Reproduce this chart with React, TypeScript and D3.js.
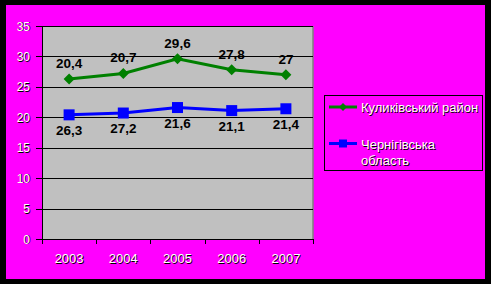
import React from "react";
import * as d3 from "d3";

const years = ["2003", "2004", "2005", "2006", "2007"];
const districtValues = [26.3, 27.2, 29.6, 27.8, 27];
const districtLabels = ["20,4", "20,7", "29,6", "27,8", "27"];
const regionValues = [20.4, 20.7, 21.6, 21.1, 21.4];
const regionLabels = ["26,3", "27,2", "21,6", "21,1", "21,4"];
const yTicks = [0, 5, 10, 15, 20, 25, 30, 35];
const seriesNames = ["Куликівський район", "Чернігівська область"];

const W = 491, H = 284;
const plot = { left: 42, top: 26, right: 313, bottom: 239 };
const FONT = "Arial, 'Liberation Sans', sans-serif";

function Embossed({ x, y, anchor, size, children }: any) {
  return (
    <g fontFamily={FONT} fontSize={size} textAnchor={anchor}>
      <text x={x + 0.8} y={y + 0.8} fill="#000">{children}</text>
      <text x={x} y={y} fill="#fff">{children}</text>
    </g>
  );
}

export default function App() {
  const x = d3.scalePoint<string>().domain(years).range([plot.left, plot.right]).padding(0.5);
  const y = d3.scaleLinear().domain([0, 35]).range([plot.bottom, plot.top]);
  const line = d3.line<number>().x((_, i) => x(years[i])!).y((d) => y(d));
  const step = x.step();
  const tickXs = d3.range(years.length + 1).map((i) => plot.left + i * step);

  const diamond = (cx: number, cy: number, r: number) =>
    `M${cx},${cy - r}L${cx + r},${cy}L${cx},${cy + r}L${cx - r},${cy}Z`;

  return (
    <svg width={W} height={H} style={{ position: "fixed", left: 0, top: 0 }}>
      <rect x={0} y={0} width={W} height={H} fill="#000" />
      <rect x={6} y={5} width={479} height={274} fill="#FF00FF" />
      <rect x={plot.left} y={plot.top} width={plot.right - plot.left} height={plot.bottom - plot.top} fill="#C0C0C0" />
      <line x1={plot.right} x2={plot.right} y1={plot.top} y2={plot.bottom} stroke="#808080" strokeWidth={1.5} />
      {yTicks.map((t) => (
        <g key={t}>
          {t > 0 && <line x1={plot.left} x2={plot.right} y1={Math.round(y(t)) + 0.5} y2={Math.round(y(t)) + 0.5} stroke="#000" strokeWidth={1} />}
          <line x1={plot.left - 6} x2={plot.left} y1={Math.round(y(t)) + 0.5} y2={Math.round(y(t)) + 0.5} stroke="#000" />
          <Embossed x={30} y={y(t) + 4.5} anchor="end" size={12}>{t}</Embossed>
        </g>
      ))}
      <line x1={plot.left + 0.5} x2={plot.left + 0.5} y1={plot.top} y2={plot.bottom} stroke="#000" />
      <line x1={plot.left} x2={plot.right} y1={plot.bottom + 0.5} y2={plot.bottom + 0.5} stroke="#000" />
      {tickXs.map((tx, i) => (
        <line key={i} x1={Math.round(tx) + 0.5} x2={Math.round(tx) + 0.5} y1={plot.bottom} y2={plot.bottom + 5} stroke="#000" />
      ))}
      {years.map((yr) => (
        <Embossed key={yr} x={x(yr)!} y={263} anchor="middle" size={13}>{yr}</Embossed>
      ))}

      <path d={line(districtValues)!} fill="none" stroke="#008000" strokeWidth={3} />
      {districtValues.map((v, i) => (
        <path key={i} d={diamond(x(years[i])!, y(v), 5.5)} fill="#008000" />
      ))}
      <path d={line(regionValues)!} fill="none" stroke="#0000FF" strokeWidth={3} />
      {regionValues.map((v, i) => (
        <rect key={i} x={x(years[i])! - 5.5} y={y(v) - 5.5} width={11} height={11} fill="#0000FF" />
      ))}

      {districtValues.map((v, i) => (
        <text key={i} x={x(years[i])!} y={y(v) - 11} textAnchor="middle" fontFamily={FONT} fontWeight="bold" fontSize={13.5} fill="#000">
          {districtLabels[i]}
        </text>
      ))}
      {regionValues.map((v, i) => (
        <text key={i} x={x(years[i])!} y={y(v) + 20} textAnchor="middle" fontFamily={FONT} fontWeight="bold" fontSize={13.5} fill="#000">
          {regionLabels[i]}
        </text>
      ))}

      <rect x={324.5} y={95.5} width={158} height={75} fill="none" stroke="#000" strokeWidth={1} />
      <line x1={329} x2={357} y1={107} y2={107} stroke="#008000" strokeWidth={3} />
      <path d={diamond(343, 107, 4)} fill="#008000" />
      <Embossed x={361} y={112} anchor="start" size={13}>{seriesNames[0]}</Embossed>
      <line x1={329} x2={357} y1={143.5} y2={143.5} stroke="#0000FF" strokeWidth={3} />
      <rect x={339} y={139.5} width={8} height={8} fill="#0000FF" />
      <Embossed x={361} y={149} anchor="start" size={13}>{"Чернігівська"}</Embossed>
      <Embossed x={361} y={165} anchor="start" size={13}>{"область"}</Embossed>
    </svg>
  );
}
